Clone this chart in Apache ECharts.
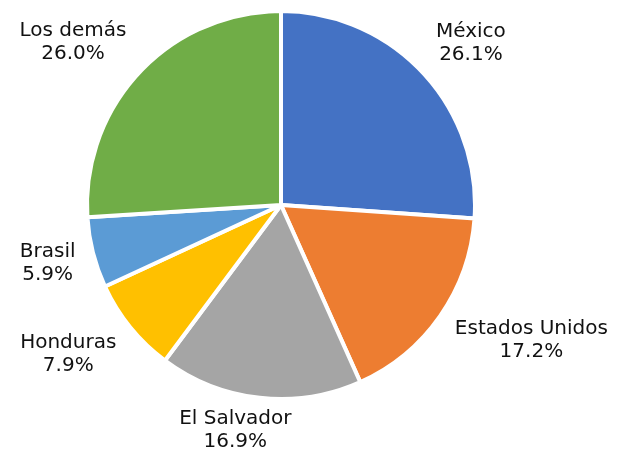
<!DOCTYPE html>
<html lang="es" style="height: 100%">
<head>
    <meta charset="UTF-8">
    <title>Pie</title>
    <script src="https://cdn.jsdelivr.net/npm/echarts@6/dist/echarts.min.js"></script>
</head>
<body style="height: 100%; margin: 0; background: #fff">
<div id="container" style="width: 617px; height: 455px"></div>
<script type="text/javascript">
    // datos
    var paises = ['México', 'Estados Unidos', 'El Salvador', 'Honduras', 'Brasil', 'Los demás'];
    var porcentajes = [26.1, 17.2, 16.9, 7.9, 5.9, 26.0];
    var colores = ['#4472C4', '#ED7D31', '#A5A5A5', '#FFC000', '#5B9BD5', '#70AD47'];

    var CX = 281, CY = 205, R = 194, D = 212;
    var W = 617, H = 455;

    var total = porcentajes.reduce(function (a, b) { return a + b; }, 0);

    function clamp(v, a, b) { return Math.max(a, Math.min(b, v)); }

    // etiquetas fuera del pastel, estilo Excel
    function colocarEtiqueta(params) {
        var i = params.dataIndex;
        var acum = 0;
        for (var k = 0; k < i; k++) acum += porcentajes[k];
        var th = (acum + porcentajes[i] / 2) / total * Math.PI * 2;
        var sx = Math.sin(th), cs = Math.cos(th);
        var w = params.labelRect.width, h = params.labelRect.height;
        var ax = CX + D * sx, ay = CY - D * cs;
        var f = 0.5 - 0.5 * clamp(sx / 0.275, -1, 1);
        var g = 0.5 + 0.5 * clamp(cs / 0.92, -1, 1);
        var left = ax - f * w, top = ay - g * h;
        if (top < 16) {
            top = 16;
            var vy = top + h - CY;
            if (D * D > vy * vy) {
                var vx = Math.sqrt(D * D - vy * vy);
                left = sx >= 0 ? CX + vx : CX - vx - w;
            }
        }
        if (top + h > H - 2) top = H - 2 - h;
        left = clamp(left, 2, W - 2 - w);
        return { x: left + w / 2, y: top, align: 'center', verticalAlign: 'top' };
    }

    var datos = paises.map(function (p, i) {
        return { name: p, value: porcentajes[i], itemStyle: { color: colores[i] } };
    });

    var chart = echarts.init(document.getElementById('container'));
    var option = {
        animation: false,
        series: [{
            type: 'pie',
            center: [CX, CY],
            radius: R,
            startAngle: 90,
            clockwise: true,
            avoidLabelOverlap: false,
            data: datos,
            itemStyle: { borderColor: '#fff', borderWidth: 4 },
            label: {
                show: true,
                position: 'outside',
                color: '#111',
                fontFamily: 'DejaVu Sans',
                fontSize: 20,
                lineHeight: 23,
                formatter: function (p) { return p.name + '\n' + p.value.toFixed(1) + '%'; }
            },
            labelLine: { show: false },
            labelLayout: colocarEtiqueta,
            emphasis: { disabled: true }
        }]
    };
    chart.setOption(option);
</script>
</body>
</html>
